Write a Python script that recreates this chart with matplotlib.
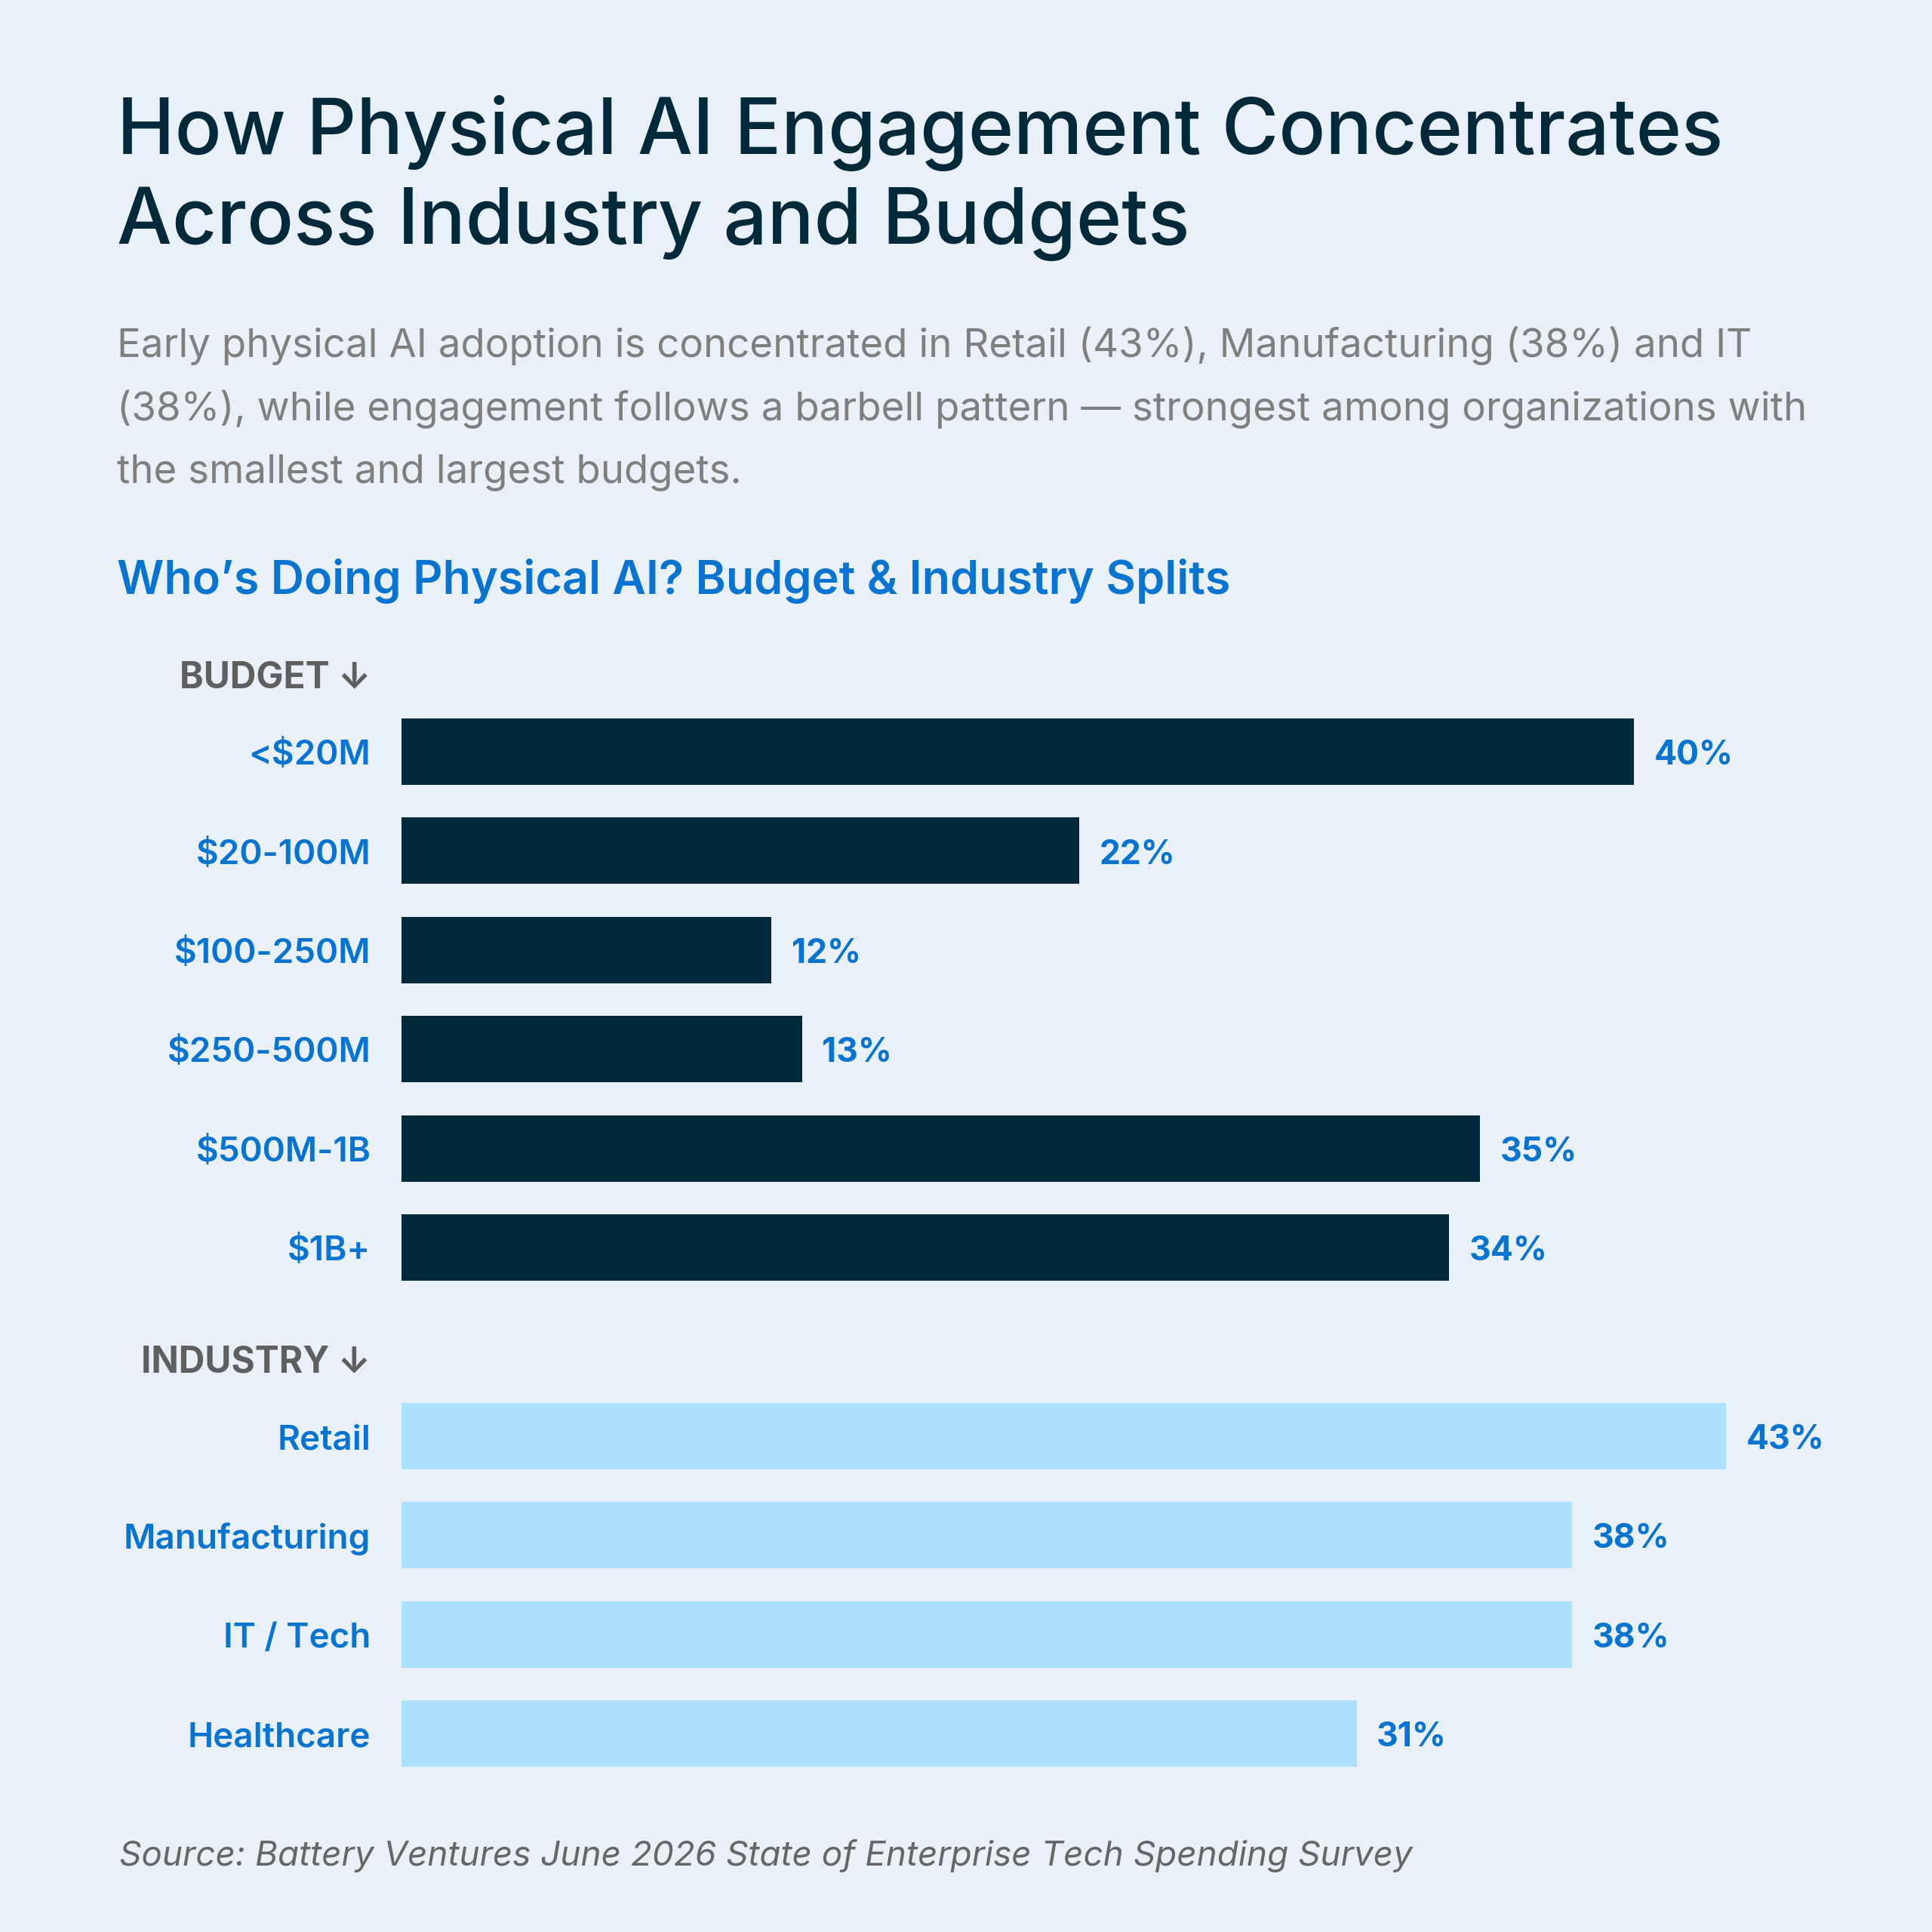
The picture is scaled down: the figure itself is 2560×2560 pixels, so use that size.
import matplotlib
matplotlib.use("Agg")
import matplotlib.pyplot as plt

budget_labels = ["<$20M", "$20-100M", "$100-250M", "$250-500M", "$500M-1B", "$1B+"]
budget_values = [40, 22, 12, 13, 35, 34]
industry_labels = ["Retail", "Manufacturing", "IT / Tech", "Healthcare"]
industry_values = [43, 38, 38, 31]

BG = "#E9F0F7"
NAVY = "#00293A"
LIGHT = "#ADE0FA"
BLUE = "#0874D1"
GREY = "#5F5F5F"
FONT = ["Inter", "DejaVu Sans"]

W = 1568.0  # layout measured on a 1568 px grid


def fx(px):
    return px / W


def fy(px):
    return 1 - px / W


fig = plt.figure(figsize=(25.6, 25.6), dpi=100, facecolor=BG)

fig.text(fx(95), fy(125), "How Physical AI Engagement Concentrates",
         fontsize=74, color=NAVY, family=FONT, weight="medium", va="baseline")
fig.text(fx(95), fy(198), "Across Industry and Budgets",
         fontsize=74, color=NAVY, family=FONT, weight="medium", va="baseline")

sub = ["Early physical AI adoption is concentrated in Retail (43%), Manufacturing (38%) and IT",
       "(38%), while engagement follows a barbell pattern \u2014 strongest among organizations with",
       "the smallest and largest budgets."]
for i, line in enumerate(sub):
    fig.text(fx(95), fy(290 + 51 * i), line, fontsize=38, color="#7F7F7F",
             family=FONT, va="baseline")

fig.text(fx(95), fy(482), "Who\u2019s Doing Physical AI? Budget & Industry Splits",
         fontsize=44, color=BLUE, family=FONT, weight="semibold", va="baseline")

# bar axes: one slot = 80.5 px, first bar centred at 610 px
slot = 80.5
top, bottom = 520, 1450
ax = fig.add_axes([fx(326), fy(bottom), 1200 / W, (bottom - top) / W])
ax.set_facecolor(BG)

gap = 0.9
n_b = len(budget_values)
y_b = list(range(n_b))
y_i = [n_b + gap + i for i in range(len(industry_values))]

ax.barh(y_b, budget_values, height=0.67, color=NAVY)
ax.barh(y_i, industry_values, height=0.67, color=LIGHT)

for y, v in zip(y_b + y_i, budget_values + industry_values):
    ax.text(v + 0.65, y + 0.04, f"{v}%", color=BLUE, fontsize=32, family=FONT,
            weight="bold", va="center", ha="left")

for y, lab in zip(y_b + y_i, budget_labels + industry_labels):
    ax.text(-1.0, y + 0.04, lab, color=BLUE, fontsize=33, family=FONT,
            weight="semibold", va="center", ha="right")

ax.text(-1.0, -0.74, "BUDGET \u2193", color=GREY, fontsize=34.5, family=FONT,
        weight="bold", va="center", ha="right")
ax.text(-1.0, y_i[0] - 0.74, "INDUSTRY \u2193", color=GREY, fontsize=34.5,
        family=FONT, weight="bold", va="center", ha="right")

ax.set_xlim(0, 48)
ax.set_ylim((bottom - 610) / slot, (top - 610) / slot)
ax.axis("off")

fig.text(fx(97), fy(1514), "Source: Battery Ventures June 2026 State of Enterprise Tech Spending Survey",
         fontsize=33, color="#666666", family=FONT, style="italic", va="baseline")

fig.savefig("out.png", dpi=100, facecolor=BG)
